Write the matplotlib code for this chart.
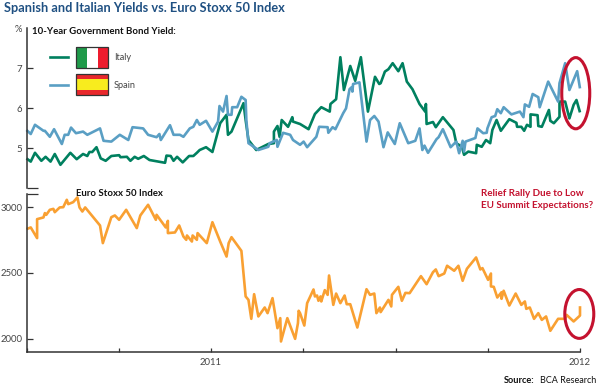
import matplotlib
matplotlib.use("Agg")
import matplotlib.pyplot as plt
from matplotlib.patches import Rectangle, Ellipse
from matplotlib.lines import Line2D
from matplotlib.transforms import Affine2D

plt.rcParams['font.family'] = ['Lato', 'Liberation Sans', 'DejaVu Sans']

# x positions are weeks since the start of July 2010
italy_x = [0,.6,1.2,2.1,2.7,3.4,4.0,4.8,6.2,7.1,8.0,8.6,8.9,9.3,9.9,10.5,11.2,12.0,13.1,13.3,14.2,14.7,15.3,15.8,16.6,17.4,19.6,19.8,20.4,20.8,21.3,22.1,23.0,23.6,24.1,24.5,25.4,26.3,27.4,28.3,28.5,29.0,30.7,31.0,31.4,32.5,34.2,35.0,35.0,35.5,35.8,36.1,37.0,37.6,37.7,38.7,
           39.9,40.8,41.7,42.9,43.0,43.8,44.4,44.9,45.8,46.5,47.3,48.3,49.3,49.9,50.1,50.7,51.2,51.8,52.6,53.2,53.8,54.6,55.6,56.4,56.5,56.6,57.5,57.9,58.9,60.4,60.8,61.6,61.9,62.5,63.6,63.7,64.4,65.0,65.6,65.9,66.5,67.1,68.3,69.3,69.4,70.0,70.4,70.8,71.3,71.3,72.3,72.4,72.9,73.9,74.1,74.6,75.4,75.4,76.2,76.8,77.4,77.8,78.3]
italy_y = [4.74,4.66,4.88,4.68,4.78,4.66,4.85,4.58,4.88,4.72,4.85,4.80,4.90,4.90,5.02,4.74,4.68,4.80,4.82,4.77,4.78,4.68,4.78,4.73,4.80,4.70,4.63,4.81,4.80,4.68,4.78,4.64,4.80,4.80,4.88,4.95,5.02,4.90,5.62,5.83,5.33,5.41,6.12,5.70,5.20,4.95,5.10,5.12,5.41,5.55,5.28,5.70,5.53,5.77,5.66,5.60,
           5.47,5.85,6.02,5.91,6.10,6.22,7.27,6.45,7.05,6.68,7.27,5.91,6.78,6.60,6.62,6.91,6.97,7.12,6.92,7.12,6.66,6.47,6.10,5.91,6.10,5.60,5.65,5.52,5.77,5.45,5.12,5.03,4.83,4.91,4.87,5.08,5.03,5.20,5.12,5.45,5.70,5.43,5.72,5.63,5.53,5.53,5.43,5.58,5.53,5.84,5.82,5.55,5.53,5.95,5.68,5.62,5.78,6.16,6.16,5.74,6.08,6.20,5.89]

spain_x = [0,.6,1.2,2.4,2.6,3.3,3.9,5.0,5.4,5.9,6.3,7.0,8.0,8.6,10.4,10.9,12.0,13.2,14.4,15.0,16.5,17.2,18.4,18.8,19.0,20.3,20.8,21.7,22.2,23.1,23.6,24.1,24.5,25.4,26.3,27.1,27.3,27.8,28.3,28.5,29.0,29.1,29.8,30.4,31.0,31.1,31.4,32.8,34.2,34.4,35.4,35.5,36.3,37.3,37.7,38.7,
           39.2,39.7,41.0,41.4,42.6,42.7,43.3,43.7,44.8,45.2,45.7,46.0,46.1,46.2,47.1,48.1,48.6,49.2,49.8,50.5,51.1,52.1,52.8,54.0,55.0,55.6,56.0,56.3,56.8,58.0,58.3,58.9,60.0,60.8,61.2,61.7,61.9,62.1,63.5,63.8,64.6,65.1,65.2,65.8,66.3,66.6,67.1,67.5,68.6,69.8,70.3,70.5,71.1,71.6,72.4,72.6,73.8,75.2,75.4,76.2,76.8,77.9,78.3]
spain_y = [5.45,5.35,5.58,5.43,5.43,5.28,5.47,5.10,5.33,5.33,5.51,5.37,5.41,5.33,5.49,5.18,5.16,5.33,5.20,5.52,5.49,5.33,5.27,5.35,5.20,5.57,5.33,5.33,5.28,5.49,5.53,5.70,5.58,5.68,5.41,5.66,6.05,5.91,6.30,5.83,5.83,6.02,6.02,6.28,6.20,5.70,5.12,4.95,5.03,5.12,5.20,5.03,5.38,5.33,5.20,5.08,
           5.16,5.02,5.28,5.53,5.52,5.38,5.52,5.47,5.87,5.99,6.47,6.52,6.41,6.60,6.64,5.16,5.70,5.80,5.66,5.02,5.39,5.10,5.62,5.12,5.18,5.49,4.95,5.06,4.88,5.22,5.27,5.47,5.02,5.16,4.87,5.18,4.91,5.16,5.25,5.49,5.37,5.38,5.49,5.77,5.80,5.97,5.87,6.02,5.84,5.91,5.77,6.09,6.03,6.35,6.27,6.02,6.66,6.16,6.62,7.12,6.45,6.92,6.49]

stoxx_x = [0,.6,1.5,1.5,2.4,2.6,2.8,3.3,3.8,4.0,4.7,5.2,5.7,5.9,6.6,7.2,7.5,7.9,8.3,10.4,10.8,12.0,12.5,13.1,14.1,15.6,16.1,17.2,18.3,18.4,19.7,20.0,20.0,21.0,21.6,22.2,22.6,22.7,23.4,23.5,24.1,24.2,25.5,26.3,27.4,28.3,28.6,29.0,30.4,31.0,31.4,31.8,32.2,32.8,33.7,34.1,34.8,35.5,35.9,36.0,36.9,38.0,38.4,38.5,
           38.7,39.3,39.7,40.6,40.8,41.1,41.3,41.6,41.7,42.2,42.6,42.8,43.4,43.8,44.4,45.0,45.3,45.8,46.8,48.1,48.6,49.2,49.5,50.0,50.1,51.2,51.6,51.7,52.6,53.1,53.6,54.2,55.8,56.6,57.5,57.9,58.3,59.1,59.5,60.5,61.1,61.7,62.3,63.6,64.2,64.5,65.3,65.7,65.7,66.1,66.6,67.2,67.2,67.5,68.3,69.2,70.0,70.5,70.7,71.2,71.8,72.4,72.9,73.5,74.1,75.2,76.2,76.4,77.4,78.3,78.3]
stoxx_y = [2833,2846,2765,2909,2922,2955,2942,2980,2987,2962,2998,3000,3056,3023,3038,3074,2998,2967,2998,2861,2727,2924,2937,2904,2980,2841,2937,3018,2904,2942,2846,2896,2803,2808,2861,2777,2752,2785,2739,2785,2752,2803,2727,2886,2739,2625,2727,2772,2668,2322,2296,2152,2339,2170,2238,2195,2309,2081,2157,1980,2157,2000,2119,2213,
           2195,2101,2271,2375,2322,2329,2289,2322,2284,2370,2334,2481,2258,2344,2271,2329,2263,2263,2086,2377,2334,2344,2195,2238,2203,2296,2246,2334,2395,2289,2349,2347,2476,2415,2506,2527,2476,2496,2555,2517,2555,2441,2532,2618,2527,2537,2448,2496,2398,2395,2314,2354,2304,2365,2253,2344,2258,2284,2228,2238,2152,2195,2144,2170,2061,2152,2152,2182,2132,2177,2248]

yield_ticks = [5, 6, 7]
index_ticks = [2000, 2500, 3000]
quarter_ticks = [0, 13.05, 26.1, 39.15, 52.2, 65.25, 78.3]
year_ticks = [26.1, 78.3]
year_labels = ['2011', '2012']

GREEN, BLUE, ORANGE = '#00805f', '#5a9fc4', '#f9a032'
RED, NAVY, DARK, GREY = '#c4122f', '#1f5082', '#111111', '#444444'
W, H = 600, 388
XL, XR = 26.5, 580

fig = plt.figure(figsize=(6, 3.88), dpi=100, facecolor='white')
px = Affine2D().scale(1 / W, -1 / H).translate(0, 1) + fig.transFigure


def make_axes(top, bottom):
    return fig.add_axes([XL / W, 1 - bottom / H, (XR - XL) / W, (bottom - top) / H])


ax1 = make_axes(28, 188)
ax2 = make_axes(194, 352)

for ax in (ax1, ax2):
    ax.set_xlim(0, 78.3)
    for s in ('top', 'right', 'bottom'):
        ax.spines[s].set_visible(False)
    ax.spines['left'].set_color('#333333')
    ax.spines['left'].set_linewidth(1.1)
    ax.patch.set_alpha(0)

ax1.set_ylim(4, 8)
ax1.set_yticks(yield_ticks)
ax1.set_yticks([4], minor=True)
ax1.set_xticks([])
ax2.set_ylim(1900, 3100)
ax2.set_yticks(index_ticks)
ax2.set_yticks([3100], minor=True)
ax2.set_xticks(quarter_ticks)
ax2.set_xticklabels(['' if q not in year_ticks else year_labels[year_ticks.index(q)] for q in quarter_ticks])
ax2.spines['bottom'].set_visible(True)
ax2.spines['bottom'].set_color('#333333')
ax2.spines['bottom'].set_linewidth(1.1)

for ax in (ax1, ax2):
    ax.tick_params(axis='y', which='major', direction='in', length=4.2, width=0.9, color='#333333',
                   labelsize=6.9, labelcolor=GREY, pad=3.0)
    ax.tick_params(axis='y', which='minor', direction='in', length=8.2, width=0.9, color='#333333')
ax2.tick_params(axis='x', direction='in', length=3.2, width=0.9, color='#333333',
                labelsize=6.9, labelcolor=GREY, pad=4.5)

kw = dict(lw=1.9, solid_joinstyle='round', solid_capstyle='butt', clip_on=False)
ax1.plot(italy_x, italy_y, color=GREEN, **kw)
ax1.plot(spain_x, spain_y, color=BLUE, **kw)
ax2.plot(stoxx_x, stoxx_y, color=ORANGE, **kw)

ax1.add_patch(Ellipse((77.7, 6.37), 3.96, 1.78, fill=False, ec=RED, lw=2.2, clip_on=False, zorder=5))
ax2.add_patch(Ellipse((78.2, 2189), 4.1, 371, fill=False, ec=RED, lw=2.2, clip_on=False, zorder=5))

# Legend keys and flags
fig.add_artist(Line2D([50, 68], [57, 57], color=GREEN, lw=1.9, transform=px))
fig.add_artist(Line2D([50, 68], [85, 85], color=BLUE, lw=1.9, transform=px))
for x0, w, c in [(75.5, 11, '#1f9a4a'), (86.5, 11, 'white'), (97.5, 10.5, '#ee1c2e')]:
    fig.add_artist(Rectangle((x0, 46.5), w, 21, fc=c, ec='none', transform=px))
fig.add_artist(Rectangle((75.5, 46.5), 32.5, 21, fc='none', ec='#333333', lw=0.9, transform=px))
for y0, h, c in [(73.5, 5, '#e8282c'), (78.5, 11, '#f8ec1e'), (89.5, 5.5, '#e8282c')]:
    fig.add_artist(Rectangle((75.5, y0), 32.5, h, fc=c, ec='none', transform=px))
fig.add_artist(Rectangle((75.5, 73.5), 32.5, 21.5, fc='none', ec='#333333', lw=0.9, transform=px))

renderer = fig.canvas.get_renderer()


def label(x, y, s, width, **k):
    """Place text with its left edge at x and size it to span `width` pixels."""
    t = fig.text(x, y, s, transform=px, va='center', fontsize=10, **k)
    t.set_fontsize(10 * width / t.get_window_extent(renderer).width)


label(3.5, 8.5, 'Spanish and Italian Yields vs. Euro Stoxx 50 Index', 281, fontweight='bold', color=NAVY)
label(15, 29.5, '%', 7.5, color=GREY)
label(32, 31, '10-Year Government Bond Yield:', 143, fontweight='bold', color=DARK)
label(114, 57, 'Italy', 17, color=GREY)
label(114, 85, 'Spain', 22, color=GREY)
label(76, 194, 'Euro Stoxx 50 Index', 87, fontweight='bold', color=DARK)
label(481, 193.5, 'Relief Rally Due to Low', 103, fontweight='bold', color=RED)
label(481, 206, 'EU Summit Expectations?', 112, fontweight='bold', color=RED)
label(503.5, 380.5, 'Source:', 31, fontweight='bold', color=DARK)
label(540, 380.5, 'BCA Research', 56, color=DARK)

fig.savefig('out.png', dpi=100)
